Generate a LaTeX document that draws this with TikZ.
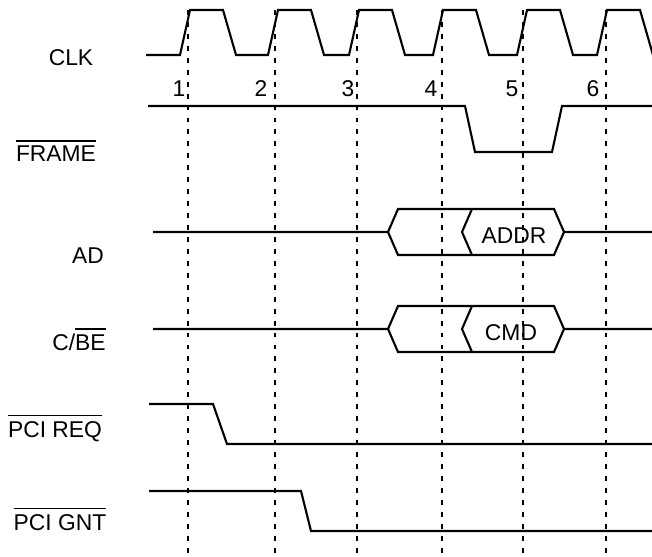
\documentclass[tikz,border=0pt]{standalone}
\usepackage{fontspec}
\setmainfont{Liberation Sans}
\usepackage{tikz}
\usetikzlibrary{calc}

\newsavebox{\barbox}
\newcommand{\barred}[1]{\sbox{\barbox}{#1}\rlap{\rule[\dimexpr\ht\barbox+2.6pt\relax]{\wd\barbox}{0.8pt}}\usebox{\barbox}}

\tikzset{
    sig/.style={line width=1.2pt, line join=miter},
    tick/.style={line width=1.3pt, dash pattern=on 2.8pt off 4pt},
    lbl/.style={anchor=base, inner sep=0pt, font=\fontsize{13}{15}\selectfont}
}

\begin{document}
\begin{tikzpicture}[x=0.02cm, y=-0.02cm]
\useasboundingbox (0,0) rectangle (652,557);

% Signal names
\node[lbl] (clk)   at (71,66)   {CLK};
\node[lbl] (frame) at (56,162)  {\barred{FRAME}};
\node[lbl] (ad)    at (88,263)  {AD};
\node[lbl] (cbe)   at (79,350)  {C/\barred{BE}};
\node[lbl] (req)   at (55,437)  {\barred{PCI REQ}};
\node[lbl] (gnt)   at (60,530)  {\barred{PCI GNT}};

% Clock
\draw[sig] (146,55) \foreach \r in {180,268,349,433,517,597}{
    -- (\r,55) -- ++(10,-45) -- ++(33,0) -- ++(13,45)};

% Clock numbers
\foreach \n/\x in {1/179,2/261,3/348,4/431,5/512,6/593}
    \node[lbl] (num\n) at (\x,97) {\n};

% FRAME
\draw[sig] (148,106) -- (465,106) -- (475,152) -- (552,152) -- (562,106) -- (652,106);

% AD bus
\draw[sig] (153,232) -- (388,232) -- (398,209) -- (554,209) -- (564,232) -- (652,232);
\draw[sig] (388,232) -- (398,255) -- (554,255) -- (564,232);
\draw[sig] (472,209) -- (462,232) -- (472,255);
\node[lbl] (addr) at (514,243) {ADDR};

% C/BE bus
\draw[sig] (153,329) -- (388,329) -- (398,306) -- (554,306) -- (564,329) -- (652,329);
\draw[sig] (388,329) -- (398,352) -- (554,352) -- (564,329);
\draw[sig] (472,306) -- (462,329) -- (472,352);
\node[lbl] (cmd) at (511,340) {CMD};

% PCI REQ
\draw[sig] (149,404) -- (213,404) -- (227,444) -- (652,444);

% PCI GNT
\draw[sig] (149,491) -- (301,491) -- (311,531) -- (652,531);

% Clock edges
\foreach \x in {188,275,357,442,523,606}
    \draw[tick] (\x,10) -- (\x,557);

\end{tikzpicture}
\end{document}
